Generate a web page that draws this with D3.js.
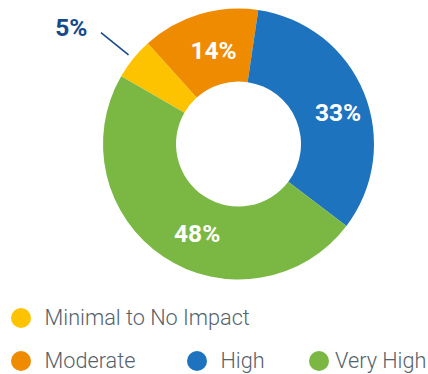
<!DOCTYPE html>
<html>
<head>
<meta charset="utf-8">
<script src="https://cdn.jsdelivr.net/npm/d3@7"></script>
<style>
  html, body { margin: 0; padding: 0; background: #fff; }
  svg { display: block; }
</style>
</head>
<body>
<svg id="chart" width="428" height="374"></svg>
<script>
// Impact distribution
const categories = ["Minimal to No Impact", "Moderate", "High", "Very High"];
const values = [5, 14, 33, 48];
const valueLabels = ["5%", "14%", "33%", "48%"];
const colors = ["#FDC300", "#EF8B00", "#1E73BE", "#7AB843"];

const svg = d3.select("#chart");
const cx = 238.5, cy = 144, outerR = 135.5, innerR = 62.5;
const FONT = "Roboto, 'Helvetica Neue', Arial, sans-serif";

const pie = d3.pie().sort(null).value(d => d)
  .startAngle(-Math.PI / 3).endAngle(-Math.PI / 3 + 2 * Math.PI);
const arcs = pie(values);
const arc = d3.arc().innerRadius(innerR).outerRadius(outerR);

const g = svg.append("g").attr("transform", `translate(${cx},${cy})`);

g.selectAll("path.slice").data(arcs).join("path")
  .attr("class", "slice")
  .attr("d", arc)
  .attr("fill", (d, i) => colors[i]);

// In-ring labels (small nudges so they sit visually centred)
const labelArc = d3.arc().innerRadius(100).outerRadius(100);
const nudge = [null, [4, 2], [7, 6], [14, 6]];
arcs.forEach((d, i) => {
  if (!nudge[i]) return;
  const [x, y] = labelArc.centroid(d);
  g.append("text")
    .attr("x", x + nudge[i][0]).attr("y", y + nudge[i][1])
    .attr("text-anchor", "middle").attr("dominant-baseline", "central")
    .attr("font-family", FONT).attr("font-weight", 700).attr("font-size", 24.5)
    .attr("fill", "#fff")
    .text(valueLabels[i]);
});

// Outside label for the small slice, with a leader line
const small = arcs[0];
const mid = (small.startAngle + small.endAngle) / 2;
const pt = r => [r * Math.sin(mid), -r * Math.cos(mid)];
const [x1, y1] = pt(141.5), [x2, y2] = pt(177);
g.append("line")
  .attr("x1", x1).attr("y1", y1).attr("x2", x2).attr("y2", y2)
  .attr("stroke", "#174A8B").attr("stroke-width", 1.6);
g.append("text")
  .attr("x", x2 - 13.5).attr("y", y2 + 3.5)
  .attr("text-anchor", "end")
  .attr("font-family", FONT).attr("font-weight", 700).attr("font-size", 24.5)
  .attr("fill", "#174A8B")
  .text(valueLabels[0]);

// Legend
const legendPos = [[21, 318], [21, 361], [197, 361], [319, 361]];
const legend = svg.append("g");
categories.forEach((c, i) => {
  const [lx, ly] = legendPos[i];
  legend.append("circle").attr("cx", lx).attr("cy", ly).attr("r", 10).attr("fill", colors[i]);
  legend.append("text")
    .attr("x", lx + (i === 3 ? 16 : 23.5)).attr("y", ly + 7)
    .attr("font-family", FONT).attr("font-weight", 300).attr("font-size", 21.7)
    .attr("fill", "#56626B")
    .text(c);
});
</script>
</body>
</html>
